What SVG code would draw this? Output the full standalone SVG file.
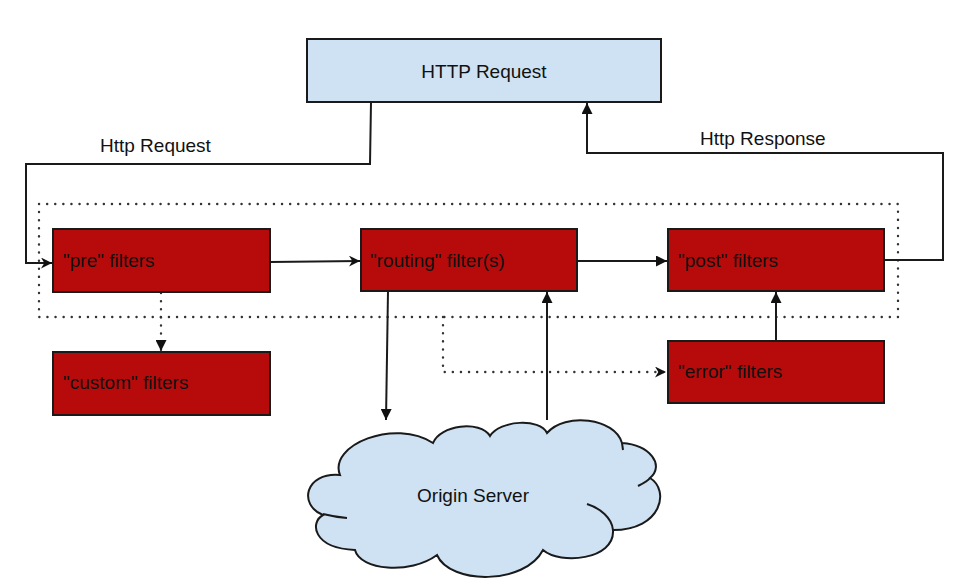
<svg xmlns="http://www.w3.org/2000/svg" width="961" height="584" viewBox="0 0 961 584">
<style>
text{font-family:"Liberation Sans",Arial,sans-serif;font-size:19px;fill:#111}
.red{fill:#b70b0b;stroke:#1a1a1a;stroke-width:2}
.blue{fill:#cfe2f3;stroke:#1a1a1a;stroke-width:2}
.ln{fill:none;stroke:#1a1a1a;stroke-width:2}
.dot{fill:none;stroke:#333;stroke-width:2.4;stroke-dasharray:0.1 8;stroke-linecap:round}
</style>
<defs>
<marker id="tri" viewBox="0 0 10 10" refX="10" refY="5" markerWidth="11" markerHeight="11" markerUnits="userSpaceOnUse" orient="auto">
<path d="M0,0 L10,5 L0,10 Z" fill="#111"/>
</marker>
<marker id="open" viewBox="0 0 10 10" refX="10" refY="5" markerWidth="11" markerHeight="11" markerUnits="userSpaceOnUse" orient="auto">
<path d="M0,0 L10,5 L0,10 L3,5 Z" fill="#111"/>
</marker>
</defs>
<rect width="961" height="584" fill="#fff"/>
<rect class="dot" x="39" y="204" width="859" height="113"/>
<g id="connectors">
<path class="ln" d="M371,102 L370,164 L26,164 L26,263 L52,263" marker-end="url(#open)"/>
<path class="ln" d="M884,260 L943,260 L943,153 L587,153 L587,103" marker-end="url(#tri)"/>
<path class="ln" d="M270,262 L360,261" marker-end="url(#open)"/>
<path class="ln" d="M577,261 L667,261" marker-end="url(#tri)"/>
<path class="dot" d="M161,293 L161,351" marker-end="url(#tri)"/>
<path class="dot" d="M443,317 L443,372 L666,372" marker-end="url(#open)"/>
<path class="ln" d="M388,291 L386,420" marker-end="url(#tri)"/>
<path class="ln" d="M547,420 L547,292" marker-end="url(#tri)"/>
<path class="ln" d="M776,341 L776,292" marker-end="url(#tri)"/>
<text x="100" y="152">Http Request</text>
<text x="700" y="145">Http Response</text>
</g>
<g id="http-request">
<rect class="blue" x="307" y="39" width="354" height="63"/>
<text x="484" y="78" text-anchor="middle">HTTP Request</text>
</g>
<g id="pre">
<rect class="red" x="53" y="229" width="217" height="63"/>
<text x="63" y="267">"pre" filters</text>
</g>
<g id="custom">
<rect class="red" x="53" y="352" width="217" height="63"/>
<text x="63" y="389">"custom" filters</text>
</g>
<g id="routing">
<rect class="red" x="361" y="229" width="216" height="62"/>
<text x="370" y="267">"routing" filter(s)</text>
</g>
<g id="post">
<rect class="red" x="668" y="229" width="216" height="62"/>
<text x="678" y="267">"post" filters</text>
</g>
<g id="error">
<rect class="red" x="668" y="341" width="216" height="62"/>
<text x="678" y="378">"error" filters</text>
</g>
<g id="origin-server">
<path class="blue" d="M340,475 C328,445 395,418 433,443 C440,425 480,420 490,436 C500,420 540,418 547,433 C565,412 615,418 622,443 C650,445 665,465 650,478 C670,490 662,530 613,530 C615,560 560,565 543,550 C525,585 450,585 437,555 C410,575 360,570 355,550 C312,548 310,522 323,515 C298,505 305,472 340,475 Z"/>
<path class="ln" d="M347,518 Q335,517 323,514 M587,504 C600,508 612,518 613,530 M638,486 C644,483 648,481 650,478 M622,443 L623,450"/>
<text x="473" y="502" text-anchor="middle">Origin Server</text>
</g>
</svg>
